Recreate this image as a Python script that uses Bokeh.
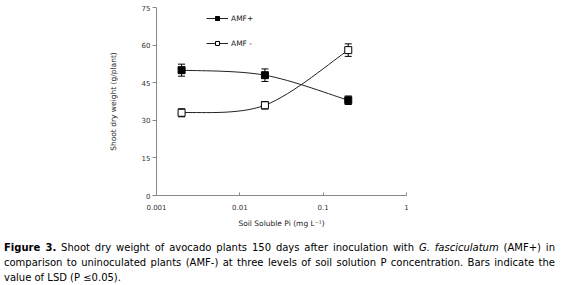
import math
from bokeh.plotting import figure
from bokeh.models import (Range1d, FixedTicker, Whisker, TeeHead, ColumnDataSource,
                          Legend, LegendItem, Div)
from bokeh.layouts import column
from bokeh.embed import file_html
from bokeh.resources import INLINE

# ---- data ----
soil_pi = [0.002, 0.02, 0.2]
amf_plus = [50, 48, 38]
amf_plus_lsd = [2.4, 2.5, 1.7]
amf_minus = [33, 36, 58]
amf_minus_lsd = [1.6, 1.5, 2.5]
x_ticks = [0.001, 0.01, 0.1, 1]
x_tick_labels = ["0.001", "0.01", "0.1", "1"]
y_ticks = [0, 15, 30, 45, 60, 75]

FONT = "DejaVu Sans"

p = figure(width=554, height=232, x_axis_type="log",
           x_range=Range1d(0.001, 1), y_range=Range1d(0, 75),
           output_backend="svg", toolbar_location=None,
           min_border_left=156, min_border_right=148,
           min_border_top=7, min_border_bottom=37)
p.grid.visible = False
p.outline_line_color = None
p.background_fill_color = "white"


def smooth(xs, ys):
    """Bezier control points of a smoothed line through the points (log-x)."""
    lx = [math.log10(v) for v in xs]
    n = len(lx)
    segs = dict(x0=[], y0=[], x1=[], y1=[], cx0=[], cy0=[], cx1=[], cy1=[])
    for i in range(n - 1):
        im1 = max(i - 1, 0)
        ip2 = min(i + 2, n - 1)
        c1x = lx[i] + (lx[i + 1] - lx[im1]) / 6
        c1y = ys[i] + (ys[i + 1] - ys[im1]) / 6
        c2x = lx[i + 1] - (lx[ip2] - lx[i]) / 6
        c2y = ys[i + 1] - (ys[ip2] - ys[i]) / 6
        segs["x0"].append(xs[i]); segs["y0"].append(ys[i])
        segs["x1"].append(xs[i + 1]); segs["y1"].append(ys[i + 1])
        segs["cx0"].append(10 ** c1x); segs["cy0"].append(c1y)
        segs["cx1"].append(10 ** c2x); segs["cy1"].append(c2y)
    return ColumnDataSource(segs)


items = []
for name, ys, lsd, fill in [("AMF+", amf_plus, amf_plus_lsd, "black"),
                            ("AMF -", amf_minus, amf_minus_lsd, "white")]:
    src = ColumnDataSource(dict(x=soil_pi, y=ys,
                                lo=[a - b for a, b in zip(ys, lsd)],
                                hi=[a + b for a, b in zip(ys, lsd)]))
    p.bezier(x0="x0", y0="y0", x1="x1", y1="y1", cx0="cx0", cy0="cy0",
             cx1="cx1", cy1="cy1", source=smooth(soil_pi, ys),
             line_color="#222222", line_width=1)
    w = Whisker(base="x", lower="lo", upper="hi", source=src,
                line_color="black", line_width=1,
                upper_head=TeeHead(size=7, line_color="black", line_width=1),
                lower_head=TeeHead(size=7, line_color="black", line_width=1))
    p.add_layout(w)
    pts = p.scatter("x", "y", source=src, marker="square", size=7,
                    fill_color=fill, line_color="black", line_width=1)
    # zero-length line, only used for the legend swatch
    leg_line = p.line([soil_pi[0], soil_pi[0]], [ys[0], ys[0]],
                      line_color="#222222", line_width=1)
    items.append(LegendItem(label=name, renderers=[leg_line, pts]))

legend = Legend(items=items, location=(50, 147), orientation="vertical",
                glyph_width=22, glyph_height=10, label_height=10, spacing=15,
                padding=0, margin=0, border_line_color=None,
                background_fill_alpha=0, label_standoff=3,
                label_text_font=FONT, label_text_font_size="7.5px",
                label_text_color="#222222")
p.add_layout(legend)

# axes
xa = p.xaxis[0]
xa.ticker = FixedTicker(ticks=x_ticks, minor_ticks=[])
xa.major_label_overrides = {t: l for t, l in zip(x_ticks, x_tick_labels)}
xa.axis_label = "Soil Soluble Pi (mg L\u207b\u00b9)"
xa.major_tick_in = 3
xa.major_tick_out = 0
xa.major_label_standoff = 8
xa.axis_label_standoff = 6

ya = p.yaxis[0]
ya.ticker = FixedTicker(ticks=y_ticks, minor_ticks=[])
ya.axis_label = "Shoot dry weight (g/plant)"
ya.major_tick_in = 0
ya.major_tick_out = 4
ya.major_label_standoff = 2
ya.axis_label_standoff = 21

for ax in (xa, ya):
    ax.axis_line_color = "#888888"
    ax.major_tick_line_color = "#888888"
    ax.minor_tick_line_color = None
    ax.major_label_text_font = FONT
    ax.major_label_text_font_size = "7px"
    ax.major_label_text_color = "#333333"
    ax.axis_label_text_font = FONT
    ax.axis_label_text_font_style = "normal"
    ax.axis_label_text_color = "#222222"
xa.axis_label_text_font_size = "7.5px"
ya.axis_label_text_font_size = "7.5px"

line_style = "white-space:nowrap;text-align:justify;text-align-last:justify;"
caption = Div(
    text=(
        f'<div style="width:551px;font-family:\'{FONT}\';font-size:10px;line-height:15px;color:#000;">'
        f'<div style="{line_style}"><b>Figure 3.</b> Shoot dry weight of avocado plants 150 days after '
        'inoculation with <i>G. fasciculatum</i> (AMF+) in</div>'
        f'<div style="{line_style}">comparison to uninoculated plants (AMF-) at three levels of soil '
        'solution P concentration. Bars indicate the</div>'
        '<div style="white-space:nowrap;">value of LSD (P \u22640.05).</div>'
        '</div>'
    ),
    width=551, height=45, margin=(8, 0, 0, 4))

layout = column(p, caption)
open("out.html", "w").write(file_html(layout, INLINE))
